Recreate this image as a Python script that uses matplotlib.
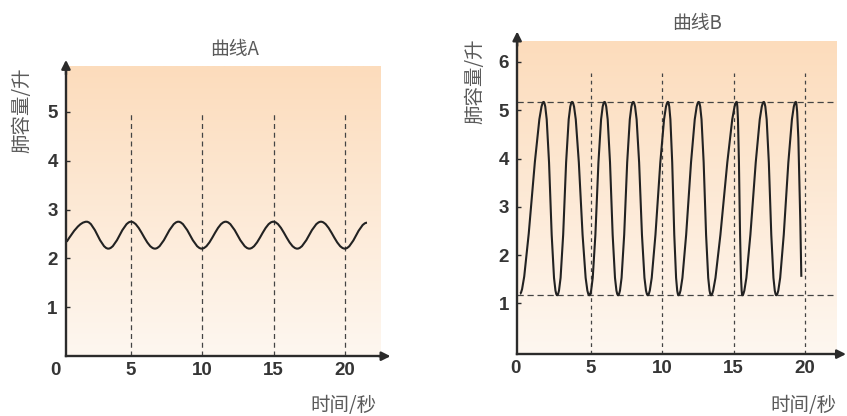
import numpy as np
import matplotlib
matplotlib.use("Agg")
import matplotlib.pyplot as plt
from matplotlib.path import Path
from matplotlib.patches import PathPatch

# ---------------- data ----------------
# Curve A: start point, then alternating peaks / troughs, end point
a_time = [0.49, 1.89, 3.41, 5.0, 6.68, 8.32, 9.96, 11.64, 13.3, 14.98, 16.66, 18.32, 20.0, 21.55]
a_vol = [2.34, 2.75, 2.2, 2.75, 2.2, 2.75, 2.2, 2.75, 2.2, 2.75, 2.2, 2.75, 2.2, 2.73]

# Curve B: start trough, alternating peaks / troughs, end point (mid-descent)
b_time = [0.05, 1.7, 2.65, 3.7, 4.9, 5.97, 6.92, 7.98, 9.0, 10.41, 11.15, 12.56,
          13.43, 15.22, 15.62, 17.12, 18.0, 19.36, 19.75]
b_vol = [1.2, 5.17, 1.17, 5.17, 1.17, 5.17, 1.17, 5.17, 1.17, 5.17, 1.17, 5.17,
         1.17, 5.17, 1.17, 5.17, 1.17, 5.17, 1.55]

x_ticks = [5, 10, 15, 20]
a_yticks = [1, 2, 3, 4, 5]
b_yticks = [1, 2, 3, 4, 5, 6]
b_hlines = [1.17, 5.17]

title_a = "曲线A"
title_b = "曲线B"
ylabel = "肺容量/升"
xlabel = "时间/秒"

# ---------------- style ----------------
W, H = 847, 416
fig = plt.figure(figsize=(W / 100, H / 100), dpi=100)
fig.patch.set_facecolor("white")

CJK = ["Noto Sans CJK SC", "DejaVu Sans"]
NUM = ["Liberation Sans", "DejaVu Sans"]
TXT_C = "#5a5a5a"
AX_C = "#2b2b2b"

top_c = np.array([252, 220, 188]) / 255
bot_c = np.array([254, 247, 240]) / 255


def add_axes_px(x0, sx, y0, sy, xlim, ylim):
    left = x0 + sx * xlim[0]
    right = x0 + sx * xlim[1]
    top = y0 - sy * ylim[1]
    bot = y0 - sy * ylim[0]
    ax = fig.add_axes([left / W, (H - bot) / H, (right - left) / W, (bot - top) / H])
    ax.set_xlim(*xlim)
    ax.set_ylim(*ylim)
    ax.patch.set_alpha(0)
    return ax


def smooth_path(xs, ys, k_fun, start_mid=False, end_mid=False):
    verts = [(xs[0], ys[0])]
    codes = [Path.MOVETO]
    n = len(xs)
    for i in range(n - 1):
        x0, y0, x1, y1 = xs[i], ys[i], xs[i + 1], ys[i + 1]
        dx = x1 - x0
        d = k_fun(dx)
        if i == 0 and start_mid:
            p1 = (x0 + dx / 3, y0 + (y1 - y0) * 0.52)
            p2 = (x1 - dx / 3, y1)
        elif i == n - 2 and end_mid:
            p1 = (x0 + min(d, dx / 2), y0)
            p2 = (x1 - dx / 4, y1 - (y1 - y0) * 0.4)
        else:
            p1 = (x0 + d, y0)
            p2 = (x1 - d, y1)
        verts += [p1, p2, (x1, y1)]
        codes += [Path.CURVE4] * 3
    return Path(verts, codes)


def gradient_bg(ax, x0, x1, y0, y1):
    t = np.linspace(0, 1, 256)[:, None]
    img = top_c[None, None, :] * (1 - t[:, :, None]) + bot_c[None, None, :] * t[:, :, None]
    img = np.repeat(img, 2, axis=1)
    ax.imshow(img, extent=(x0, x1, y0, y1), aspect="auto", zorder=0, interpolation="bilinear")


def setup_axes(ax, xspine, yspine, ytop, xend, yticks, xtick_pos, xtick_lab):
    for s in ["top", "right"]:
        ax.spines[s].set_visible(False)
    ax.spines["left"].set_position(("data", xspine))
    ax.spines["bottom"].set_position(("data", yspine))
    ax.spines["left"].set_bounds(yspine, ytop - 0.2)
    ax.spines["bottom"].set_bounds(xspine, xend - 0.5)
    for s in ["left", "bottom"]:
        ax.spines[s].set_linewidth(1.7)
        ax.spines[s].set_color(AX_C)
        ax.spines[s].set_zorder(5)
    ax.set_yticks(yticks)
    ax.set_yticklabels([str(v) for v in yticks])
    ax.set_xticks(xtick_pos)
    ax.set_xticklabels(xtick_lab)
    ax.tick_params(axis="y", direction="in", length=3, width=1, color=AX_C, pad=6,
                   labelsize=13.5, labelcolor="#353535")
    ax.tick_params(axis="x", length=0, pad=4, labelsize=13.5, labelcolor="#353535")
    for lab in ax.get_xticklabels() + ax.get_yticklabels():
        lab.set_family(NUM)
        lab.set_fontweight("bold")
    ap = dict(arrowstyle="-|>", color=AX_C, lw=1.7, mutation_scale=13, shrinkA=0, shrinkB=0)
    ax.annotate("", xy=(xspine, ytop), xytext=(xspine, ytop - 0.3), arrowprops=ap,
                annotation_clip=False, zorder=6)
    ax.annotate("", xy=(xend, yspine), xytext=(xend - 0.8, yspine), arrowprops=ap,
                annotation_clip=False, zorder=6)


# ---------------- left chart: curve A ----------------
LX0, LSX, LY0, LSY = 59.7, 14.26, 356.2, 48.9
axA = add_axes_px(LX0, LSX, LY0, LSY, (-1.2, 23.6), (-0.4, 6.3))
gradient_bg(axA, 0.44, 22.46, 0, 5.93)
for xv in x_ticks:
    axA.plot([xv, xv], [0, 5], color="#444444", lw=0.9, ls=(0, (4, 3)), zorder=2)
pathA = smooth_path(a_time, a_vol, lambda dx: 0.364 * dx, start_mid=True)
axA.add_patch(PathPatch(pathA, fill=False, edgecolor="#222222", lw=1.5, zorder=4))
setup_axes(axA, 0.44, 0, 6.06, 23.2, a_yticks, [-0.33] + x_ticks, ["0"] + [str(v) for v in x_ticks])

# ---------------- right chart: curve B ----------------
RX0, RSX, RY0, RSY = 519.3, 14.28, 351.7, 48.3
axB = add_axes_px(RX0, RSX, RY0, RSY, (-1.5, 22.95), (-0.4, 7.0))
gradient_bg(axB, -0.15, 22.25, -0.05, 6.42)
for xv in x_ticks:
    axB.plot([xv, xv], [-0.05, 5.76], color="#444444", lw=0.9, ls=(0, (3, 3)), zorder=2)
for yv in b_hlines:
    axB.plot([-0.15, 21.95], [yv, yv], color="#444444", lw=0.9, ls=(0, (5, 3)), zorder=2)
pathB = smooth_path(b_time, b_vol, lambda dx: min(0.5, 0.48 * dx), end_mid=True)
axB.add_patch(PathPatch(pathB, fill=False, edgecolor="#222222", lw=1.5, zorder=4))
setup_axes(axB, -0.15, -0.05, 6.63, 22.88, b_yticks, [-0.3] + x_ticks, ["0"] + [str(v) for v in x_ticks])

# ---------------- texts ----------------
def ftext(px, py, s, size, rot=0):
    fig.text(px / W, 1 - py / H, s, ha="center", va="center", rotation=rot,
             fontsize=size, color=TXT_C, family=CJK)

ftext(235, 49, title_a, 13.5)
ftext(697, 23, title_b, 13.5)
ftext(22, 110, ylabel, 14, rot=90)
ftext(475, 81, ylabel, 14, rot=90)
ftext(343, 405, xlabel, 14)
ftext(803, 405, xlabel, 14)

fig.savefig("out.png", dpi=100, facecolor="white")
